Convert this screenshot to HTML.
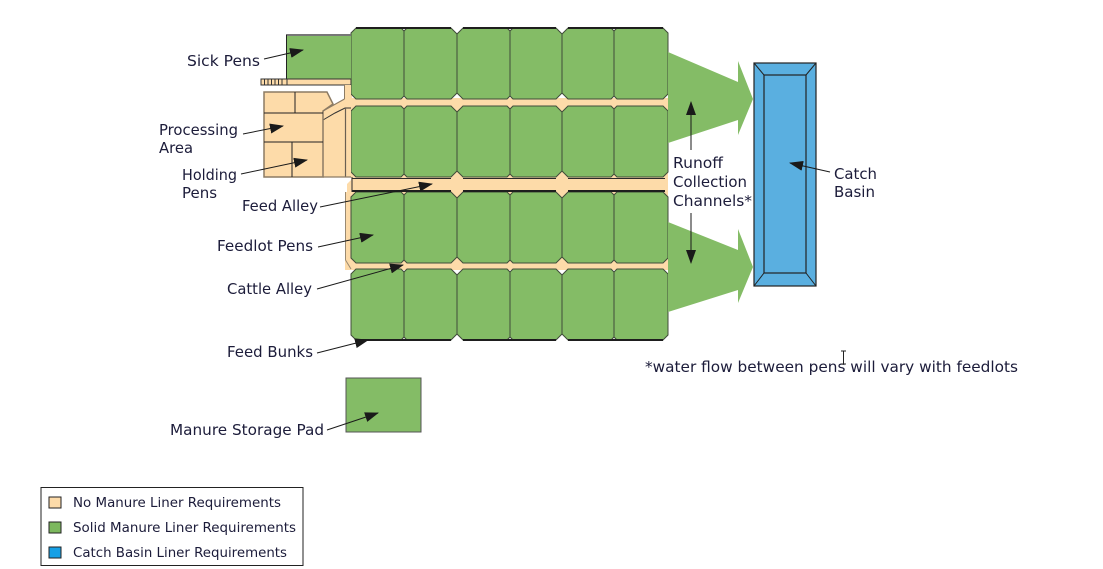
<!DOCTYPE html>
<html>
<head>
<meta charset="utf-8">
<style>
html,body{margin:0;padding:0;background:#fff;}
svg{display:block;}
text{font-family:"DejaVu Sans","Liberation Sans",sans-serif;fill:#1c1c3a;}
</style>
</head>
<body>
<svg width="1103" height="569" viewBox="0 0 1103 569" xmlns="http://www.w3.org/2000/svg">
<defs>
  <marker id="ah" markerUnits="userSpaceOnUse" markerWidth="14" markerHeight="10" refX="13" refY="5" orient="auto">
    <path d="M0,0 L14,5 L0,10 z" fill="#1a1a1a"/>
  </marker>
  <g id="row" fill="#84bc66" stroke="#404c3a" stroke-width="1">
    <polygon points="356,0 401,0 404,3 404,68 401,71 356,71 351,66 351,5"/>
    <polygon points="407,0 451,0 457,6 457,65 451,71 407,71 404,68 404,3"/>
    <polygon points="463,0 507,0 510,3 510,68 507,71 463,71 457,65 457,6"/>
    <polygon points="513,0 556,0 562,6 562,65 556,71 513,71 510,68 510,3"/>
    <polygon points="568,0 611,0 614,3 614,68 611,71 568,71 562,65 562,6"/>
    <polygon points="617,0 663,0 668,5 668,66 663,71 617,71 614,68 614,3"/>
  </g>
</defs>

<!-- cream alleys background -->
<rect x="345" y="98" width="323" height="172" fill="#fddba9"/>
<rect x="344" y="79" width="8" height="22" fill="#fddba9"/>
<!-- white gap left of feed alley -->
<polygon points="340,177 351,177 351,180 347,184 347,192 340,192" fill="#fff"/>
<line x1="345.5" y1="192" x2="345.5" y2="260" stroke="#9a8a72" stroke-width="1"/>
<line x1="345.5" y1="260" x2="351" y2="269" stroke="#9a8a72" stroke-width="1"/>

<!-- pens -->
<use href="#row" x="0" y="28"/>
<use href="#row" x="0" y="106"/>
<use href="#row" x="0" y="192"/>
<use href="#row" x="0" y="269"/>

<!-- thick top/bottom lines -->
<g stroke="#1e1e1e" stroke-width="2">
  <line x1="356" y1="28" x2="451" y2="28"/>
  <line x1="463" y1="28" x2="556" y2="28"/>
  <line x1="568" y1="28" x2="663" y2="28"/>
  <line x1="356" y1="340" x2="451" y2="340"/>
  <line x1="463" y1="340" x2="556" y2="340"/>
  <line x1="568" y1="340" x2="663" y2="340"/>
  <line x1="352" y1="191" x2="451" y2="191"/>
  <line x1="463" y1="191" x2="556" y2="191"/>
  <line x1="568" y1="191" x2="665" y2="191"/>
</g>
<g stroke="#2a2a2a" stroke-width="1">
  <line x1="352" y1="178.5" x2="451" y2="178.5"/>
  <line x1="463" y1="178.5" x2="556" y2="178.5"/>
  <line x1="568" y1="178.5" x2="665" y2="178.5"/>
  <line x1="352" y1="177" x2="352" y2="192"/>
</g>

<!-- sick pens -->
<rect x="286" y="35" width="65" height="44" fill="#84bc66"/>
<line x1="286" y1="35" x2="351" y2="35" stroke="#777" stroke-width="2"/>
<line x1="286.5" y1="35" x2="286.5" y2="79" stroke="#222" stroke-width="1"/>
<!-- strip below sick pens -->
<rect x="287" y="79" width="64" height="6" fill="#fddba9" stroke="#333" stroke-width="1"/>
<rect x="261" y="79" width="26" height="6" fill="#fddba9" stroke="#333" stroke-width="1"/>
<g stroke="#333" stroke-width="1">
  <line x1="264.5" y1="79" x2="264.5" y2="85"/>
  <line x1="268" y1="79" x2="268" y2="85"/>
  <line x1="271.5" y1="79" x2="271.5" y2="85"/>
  <line x1="275" y1="79" x2="275" y2="85"/>
  <line x1="278.5" y1="79" x2="278.5" y2="85"/>
  <line x1="282" y1="79" x2="282" y2="85"/>
</g>
<rect x="344" y="85" width="7" height="16" fill="#fddba9"/>
<line x1="344.5" y1="85" x2="344.5" y2="99" stroke="#8c7b64" stroke-width="1"/>

<!-- processing area connector alley -->
<polygon points="323,111 345,99 351,99 351,177 323,177" fill="#fddba9"/>
<polyline points="323,111 344.5,99" fill="none" stroke="#8c7b64" stroke-width="1.2"/>
<polyline points="323,120 335,113 345,108 351,108" fill="none" stroke="#333" stroke-width="1"/>
<line x1="345.5" y1="108" x2="345.5" y2="177" stroke="#6a6052" stroke-width="1.2"/>
<line x1="323" y1="177" x2="351" y2="177" stroke="#8c7b64" stroke-width="1.2"/>

<!-- processing area -->
<polygon points="264,92 327,92 333,104 323,111 323,177 264,177" fill="#fddba9" stroke="#8c7b64" stroke-width="1.5"/>
<g stroke="#222" stroke-width="1">
  <line x1="264" y1="113" x2="323" y2="113"/>
  <line x1="295" y1="92" x2="295" y2="113"/>
  <line x1="264" y1="142" x2="323" y2="142"/>
  <line x1="292" y1="142" x2="292" y2="177"/>
</g>

<!-- runoff arrows -->
<polygon points="668,52 738,82 738,61 753,99 738,135 738,120 668,143" fill="#84bc66"/>
<polygon points="668,222 738,250 738,229 753,267 738,303 738,290 668,312" fill="#84bc66"/>

<!-- catch basin -->
<rect x="754" y="63" width="62" height="223" fill="#5aafe0" stroke="#222" stroke-width="1.2"/>
<rect x="764" y="75" width="42" height="198" fill="#5aafe0" stroke="#222" stroke-width="1.2"/>
<g stroke="#222" stroke-width="1">
  <line x1="754" y1="63" x2="764" y2="75"/>
  <line x1="816" y1="63" x2="806" y2="75"/>
  <line x1="754" y1="286" x2="764" y2="273"/>
  <line x1="816" y1="286" x2="806" y2="273"/>
</g>

<!-- manure storage pad -->
<rect x="346" y="378" width="75" height="54" fill="#84bc66" stroke="#555" stroke-width="1"/>

<!-- label arrows -->
<g stroke="#1a1a1a" stroke-width="1" marker-end="url(#ah)">
  <line x1="264" y1="59" x2="303" y2="50"/>
  <line x1="243" y1="134" x2="283" y2="126"/>
  <line x1="241" y1="174" x2="307" y2="160"/>
  <line x1="320" y1="207" x2="432" y2="184"/>
  <line x1="318" y1="247" x2="373" y2="235"/>
  <line x1="317" y1="289" x2="403" y2="265"/>
  <line x1="317" y1="353" x2="368" y2="340"/>
  <line x1="327" y1="430" x2="378" y2="413"/>
  <line x1="830" y1="172" x2="790" y2="163"/>
  <line x1="691" y1="150" x2="691" y2="102"/>
  <line x1="691" y1="213" x2="691" y2="263"/>
</g>

<!-- labels -->
<g font-size="15">
  <text x="187" y="66" textLength="73" lengthAdjust="spacingAndGlyphs">Sick Pens</text>
  <text x="159" y="135" textLength="79" lengthAdjust="spacingAndGlyphs">Processing</text>
  <text x="159" y="153" textLength="34" lengthAdjust="spacingAndGlyphs">Area</text>
  <text x="182" y="180" textLength="55" lengthAdjust="spacingAndGlyphs">Holding</text>
  <text x="182" y="198" textLength="35" lengthAdjust="spacingAndGlyphs">Pens</text>
  <text x="242" y="211" textLength="76" lengthAdjust="spacingAndGlyphs">Feed Alley</text>
  <text x="217" y="251" textLength="96" lengthAdjust="spacingAndGlyphs">Feedlot Pens</text>
  <text x="227" y="294" textLength="85" lengthAdjust="spacingAndGlyphs">Cattle Alley</text>
  <text x="227" y="357" textLength="86" lengthAdjust="spacingAndGlyphs">Feed Bunks</text>
  <text x="170" y="435" textLength="154" lengthAdjust="spacingAndGlyphs">Manure Storage Pad</text>
  <text x="673" y="168" textLength="50" lengthAdjust="spacingAndGlyphs">Runoff</text>
  <text x="673" y="187" textLength="74" lengthAdjust="spacingAndGlyphs">Collection</text>
  <text x="673" y="206" textLength="79" lengthAdjust="spacingAndGlyphs">Channels*</text>
  <text x="834" y="179" textLength="43" lengthAdjust="spacingAndGlyphs">Catch</text>
  <text x="834" y="197" textLength="41" lengthAdjust="spacingAndGlyphs">Basin</text>
  <text x="645" y="372" textLength="373" lengthAdjust="spacingAndGlyphs">*water flow between pens will vary with feedlots</text>
</g>

<!-- text cursor -->
<g stroke="#222" stroke-width="1" fill="none">
  <line x1="843.5" y1="351" x2="843.5" y2="364"/>
  <line x1="841" y1="351" x2="846" y2="351"/>
  <line x1="841" y1="364" x2="846" y2="364"/>
</g>

<!-- legend -->
<rect x="41" y="487.5" width="262" height="78" fill="#fff" stroke="#222" stroke-width="1"/>
<rect x="49" y="497" width="12" height="11" fill="#fddba9" stroke="#222" stroke-width="1"/>
<rect x="49" y="522" width="12" height="11" fill="#7cb85e" stroke="#222" stroke-width="1"/>
<rect x="49" y="547" width="12" height="11" fill="#16a0e6" stroke="#222" stroke-width="1"/>
<g font-size="13">
  <text x="73" y="507" textLength="208" lengthAdjust="spacingAndGlyphs">No Manure Liner Requirements</text>
  <text x="73" y="532" textLength="223" lengthAdjust="spacingAndGlyphs">Solid Manure Liner Requirements</text>
  <text x="73" y="557" textLength="214" lengthAdjust="spacingAndGlyphs">Catch Basin Liner Requirements</text>
</g>
</svg>
</body>
</html>
